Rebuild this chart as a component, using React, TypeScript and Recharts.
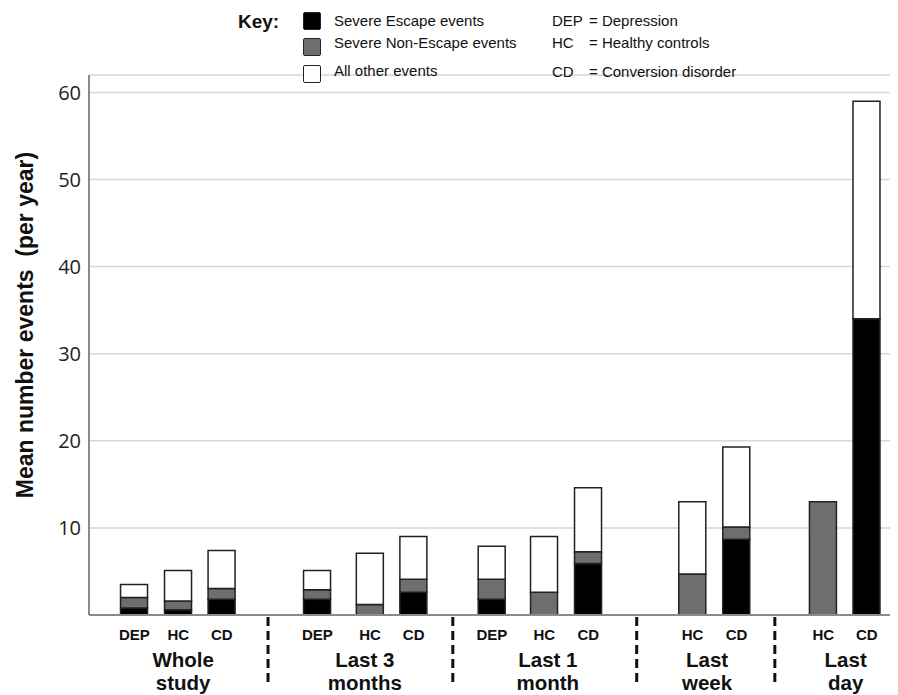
import { Bar, BarChart, CartesianGrid, ReferenceLine, XAxis, YAxis } from "recharts";

// one entry per bar, left to right
const barLabels = ["DEP", "HC", "CD", "DEP", "HC", "CD", "DEP", "HC", "CD", "HC", "CD", "HC", "CD"];
const barPos = [1.03, 2.03, 3.02, 5.19, 6.39, 7.38, 9.16, 10.35, 11.35, 13.72, 14.72, 16.69, 17.68];
const severeEscape = [0.8, 0.6, 1.8, 1.8, 0, 2.6, 1.8, 0, 5.9, 0, 8.7, 0, 34];
const severeNonEscape = [1.2, 1.0, 1.25, 1.1, 1.2, 1.5, 2.3, 2.6, 1.35, 4.7, 1.4, 13, 0];
const allOther = [1.5, 3.5, 4.35, 2.2, 5.9, 4.9, 3.8, 6.4, 7.35, 8.3, 9.2, 0, 25];

// time-window groups
const groupLines = [
  ["Whole", "study"],
  ["Last 3", "months"],
  ["Last 1", "month"],
  ["Last", "week"],
  ["Last", "day"]
];
const groupCenters = [2.14, 6.27, 10.43, 14.05, 17.2];
const separators = [4.07, 8.27, 12.45, 15.59];

const yTicks = [10, 20, 30, 40, 50, 60];

// key
const keyItems = ["Severe Escape events", "Severe Non-Escape events", "All other events"];
const abbrevs = ["DEP", "HC", "CD"];
const abbrevMeanings = ["Depression", "Healthy controls", "Conversion disorder"];

const data = barLabels.map((label, i) => ({
  label,
  pos: barPos[i],
  escape: severeEscape[i],
  nonEscape: severeNonEscape[i],
  other: allOther[i]
}));

const X_DOMAIN: [number, number] = [0, 18.39];
const ARIAL = "'Liberation Sans', Arial, sans-serif";
const keyFills = ["#000", "#6e6e6e", "#fff"];
const boxTops = [4, 30, 57];
const textTops = [4, 26, 54];

function BarTick(props: any) {
  const { x, y, payload } = props;
  const i = barPos.indexOf(payload.value);
  return (
    <text x={x} y={y + 23} textAnchor="middle" fontFamily={ARIAL} fontWeight="bold" fontSize={15} fill="#111">
      {barLabels[i]}
    </text>
  );
}

function GroupTick(props: any) {
  const { x, y, payload } = props;
  const i = groupCenters.indexOf(payload.value);
  const lines = groupLines[i] || [];
  return (
    <text x={x} textAnchor="middle" fontFamily={ARIAL} fontWeight="bold" fontSize={20.5} fill="#111">
      <tspan x={x} y={y + 20}>{lines[0]}</tspan>
      <tspan x={x} y={y + 43}>{lines[1]}</tspan>
    </text>
  );
}

function SeparatorShape(props: any) {
  const { x1, y1, y2 } = props;
  const bottom = Math.max(y1, y2);
  return <line x1={x1} x2={x1} y1={bottom + 2} y2={bottom + 72} stroke="#111" strokeWidth={3} strokeDasharray="9 5" />;
}

export default function App() {
  const txt = {
    position: "absolute" as const,
    fontFamily: ARIAL,
    fontSize: 15,
    color: "#111",
    whiteSpace: "pre" as const,
    lineHeight: "18px"
  };
  return (
    <div style={{ position: "relative", width: 890, height: 687, background: "#fff" }}>
      <BarChart width={890} height={687} data={data} margin={{ top: 67, right: 0, bottom: 0, left: 0 }}>
        <CartesianGrid horizontal vertical={false} stroke="#d6d6d6" strokeWidth={1.5} />
        <XAxis
          type="number"
          dataKey="pos"
          domain={X_DOMAIN}
          allowDataOverflow
          ticks={barPos}
          interval={0}
          tick={<BarTick />}
          tickLine={false}
          tickSize={0}
          height={30}
          axisLine={{ stroke: "#8a8a8a", strokeWidth: 2 }}
        />
        <XAxis
          xAxisId="grp"
          type="number"
          dataKey="pos"
          domain={X_DOMAIN}
          allowDataOverflow
          ticks={groupCenters}
          interval={0}
          tick={<GroupTick />}
          tickLine={false}
          tickSize={0}
          axisLine={false}
          height={50}
        />
        <YAxis
          domain={[0, 62]}
          ticks={yTicks}
          width={81}
          tickLine={false}
          axisLine={{ stroke: "#8a8a8a", strokeWidth: 2 }}
          tick={{ fontFamily: "'Open Sans', sans-serif", fontSize: 20, fill: "#222" }}
        />
        {separators.map((s) => (
          <ReferenceLine key={s} x={s} stroke="none" shape={<SeparatorShape />} />
        ))}
        <Bar dataKey="escape" stackId="a" fill="#000" stroke="#222" strokeWidth={1.5} barSize={27} isAnimationActive={false} />
        <Bar dataKey="nonEscape" stackId="a" fill="#6e6e6e" stroke="#222" strokeWidth={1.5} barSize={27} isAnimationActive={false} />
        <Bar dataKey="other" stackId="a" fill="#fff" stroke="#222" strokeWidth={1.5} barSize={27} isAnimationActive={false} />
      </BarChart>

      <div
        style={{
          position: "absolute",
          left: 17,
          top: 317,
          transform: "translate(-50%, -50%) rotate(-90deg)",
          fontFamily: ARIAL,
          fontWeight: "bold",
          fontSize: 23,
          color: "#111",
          whiteSpace: "pre"
        }}
      >
        {"Mean number events  (per year)"}
      </div>

      <div style={{ ...txt, left: 230, top: 3, fontSize: 19, lineHeight: "22px", fontWeight: "bold" }}>Key:</div>
      {keyItems.map((item, i) => (
        <div key={item}>
          <div
            style={{
              position: "absolute",
              left: 295,
              top: boxTops[i],
              width: 18,
              height: 18,
              background: keyFills[i],
              border: "1.5px solid #222",
              borderRadius: 2,
              boxSizing: "border-box"
            }}
          />
          <div style={{ ...txt, left: 326, top: textTops[i] }}>{item}</div>
        </div>
      ))}
      {abbrevs.map((a, i) => (
        <div key={a}>
          <div style={{ ...txt, left: 544, top: textTops[i] + (i === 2 ? 1 : 0) }}>{a}</div>
          <div style={{ ...txt, left: 581, top: textTops[i] + (i === 2 ? 1 : 0) }}>{"= " + abbrevMeanings[i]}</div>
        </div>
      ))}
    </div>
  );
}
